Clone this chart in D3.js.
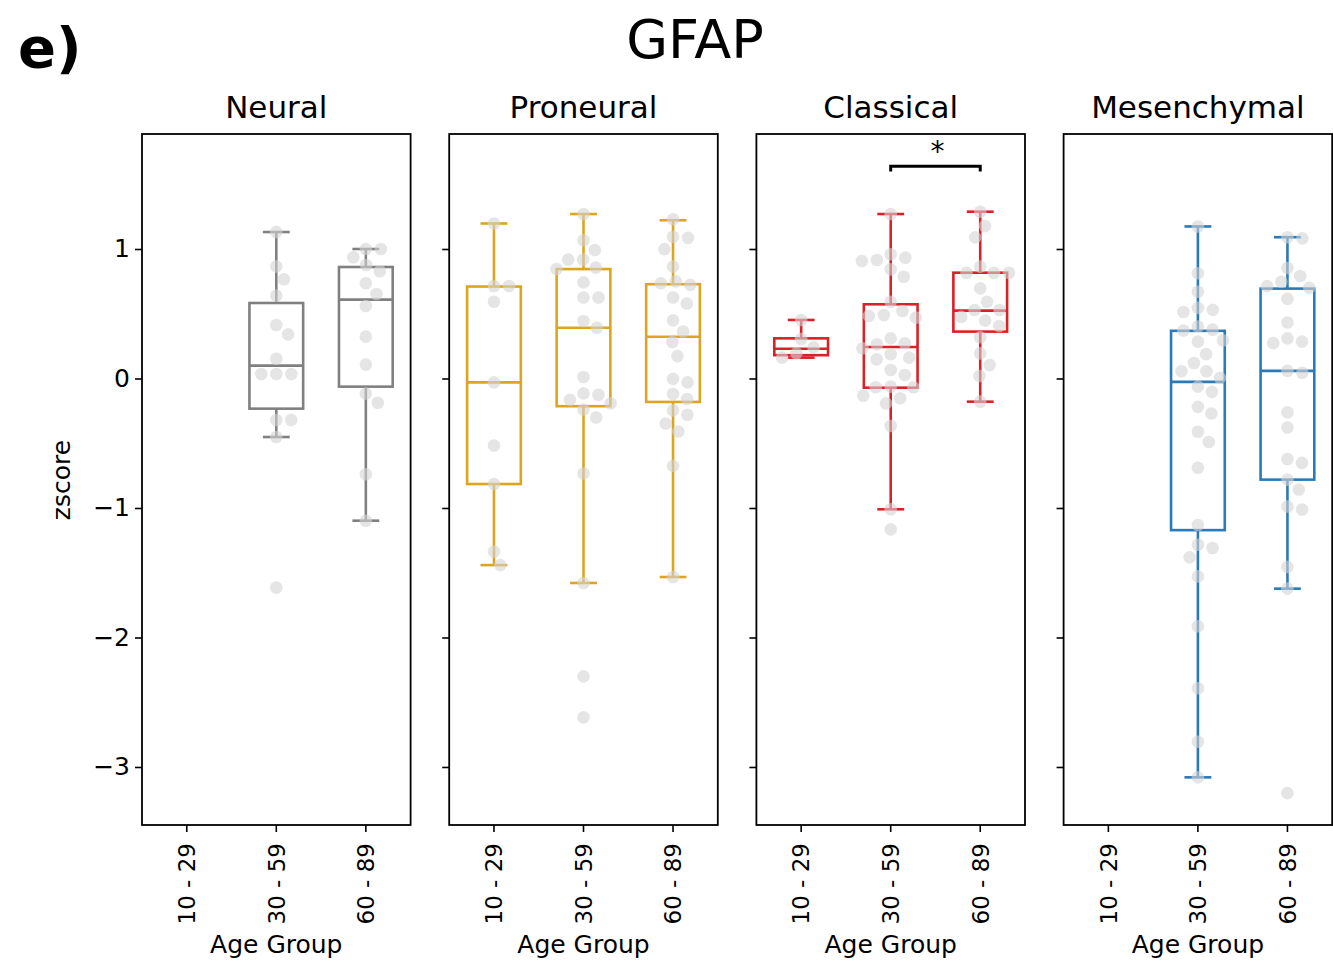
<!DOCTYPE html>
<html>
<head>
<meta charset="utf-8">
<script src="https://cdn.jsdelivr.net/npm/d3@7"></script>
<style>
  html, body { margin: 0; padding: 0; background: #fff; }
  svg { display: block; font-family: "DejaVu Sans", sans-serif; }
</style>
</head>
<body>
<svg id="chart" width="1333" height="962"></svg>
<script>
// ---------------- DATA ----------------
const subtypes = ["Neural", "Proneural", "Classical", "Mesenchymal"];
const ageGroups = ["10 - 29", "30 - 59", "60 - 89"];
const yTickValues = [-3, -2, -1, 0, 1];
const yTickLabels = ["\u22123", "\u22122", "\u22121", "0", "1"];

// z-scores of individual samples (points), per subtype, per age group
const neural_10_29 = [];
const neural_30_59 = [1.131, 0.866, 0.766, 0.640, 0.413, 0.341, 0.153, 0.035, 0.035, 0.035, -0.320, -0.320, -0.452, -1.615];
const neural_60_89 = [1.0, 1.0, 0.936, 0.876, 0.828, 0.735, 0.653, 0.560, 0.323, 0.107, -0.117, -0.187, -0.740, -1.098];

const proneural_10_29 = [1.197, 0.714, 0.714, 0.593, -0.030, -0.517, -0.815, -1.336, -1.441];
const proneural_30_59 = [1.270, 1.067, 0.991, 0.918, 0.918, 0.856, 0.845, 0.742, 0.625, 0.625, 0.444, 0.392, 0.011, -0.115, -0.125, -0.165, -0.192, -0.239, -0.301, -0.734, -1.579, -2.300, -2.617];
const proneural_60_89 = [1.229, 1.094, 1.086, 0.999, 0.864, 0.750, 0.735, 0.723, 0.625, 0.579, 0.449, 0.363, 0.282, 0.173, -0.003, -0.030, -0.120, -0.158, -0.246, -0.280, -0.347, -0.409, -0.675, -1.533];

const classical_10_29 = [0.452, 0.305, 0.240, 0.195, 0.161];
const classical_30_59 = [1.270, 0.959, 0.933, 0.915, 0.907, 0.843, 0.786, 0.593, 0.521, 0.490, 0.483, 0.470, 0.310, 0.272, 0.264, 0.233, 0.187, 0.161, 0.148, 0.066, 0.027, -0.063, -0.068, -0.068, -0.133, -0.153, -0.192, -0.367, -1.010, -1.165];
const classical_60_89 = [1.288, 1.178, 1.090, 0.864, 0.817, 0.817, 0.817, 0.696, 0.593, 0.529, 0.529, 0.477, 0.447, 0.405, 0.318, 0.194, 0.104, 0.019, -0.179];

const mesenchymal_10_29 = [];
const mesenchymal_30_59 = [1.174, 0.813, 0.670, 0.545, 0.530, 0.514, 0.401, 0.377, 0.371, 0.294, 0.285, 0.188, 0.120, 0.056, 0.056, 0.005, -0.063, -0.103, -0.219, -0.270, -0.411, -0.490, -0.689, -1.131, -1.284, -1.309, -1.381, -1.528, -1.913, -2.392, -2.805, -3.080];
const mesenchymal_60_89 = [1.091, 1.082, 0.853, 0.792, 0.747, 0.713, 0.700, 0.615, 0.432, 0.310, 0.285, 0.273, 0.059, 0.044, -0.261, -0.378, -0.622, -0.652, -0.781, -0.857, -0.988, -1.012, -1.455, -1.623, -3.202];

// box statistics: [lower whisker, Q1, median, Q3, upper whisker] (null = no box)
const neural_boxes = [null, [-0.452, -0.233, 0.099, 0.583, 1.131], [-1.098, -0.063, 0.609, 0.861, 1.000]];
const proneural_boxes = [[-1.441, -0.815, -0.030, 0.710, 1.197], [-1.579, -0.214, 0.392, 0.845, 1.270], [-1.533, -0.181, 0.322, 0.728, 1.222]];
const classical_boxes = [[0.161, 0.180, 0.230, 0.310, 0.452], [-1.010, -0.071, 0.243, 0.573, 1.270], [-0.179, 0.362, 0.524, 0.817, 1.288]];
const mesenchymal_boxes = [null, [-3.080, -1.171, -0.026, 0.368, 1.174], [-1.623, -0.781, 0.059, 0.694, 1.091]];

// significance annotations
const sigSubtype = ["Classical"];
const sigFrom = ["30 - 59"];
const sigTo = ["60 - 89"];
const sigLabel = ["*"];

// ---------------- STYLE / LAYOUT ----------------
const colors = { Neural: "#808080", Proneural: "#DBA520", Classical: "#DA2128", Mesenchymal: "#2A79B8" };
const pointsBySubtype = {
  Neural: [neural_10_29, neural_30_59, neural_60_89],
  Proneural: [proneural_10_29, proneural_30_59, proneural_60_89],
  Classical: [classical_10_29, classical_30_59, classical_60_89],
  Mesenchymal: [mesenchymal_10_29, mesenchymal_30_59, mesenchymal_60_89]
};
const boxesBySubtype = { Neural: neural_boxes, Proneural: proneural_boxes, Classical: classical_boxes, Mesenchymal: mesenchymal_boxes };

const FONT = "DejaVu Sans";
const plotTop = 134, plotBottom = 825;
const panelLeft0 = 142, panelW = 268.6, panelGap = 38.6;
const boxFrac = 0.6;
const dotR = 6.3, swarmD = 15;

const svg = d3.select("#chart");

const y = d3.scaleLinear().domain([-3.448, 1.888]).range([plotBottom, plotTop]);

// Figure label & title
svg.append("text").attr("x", 18).attr("y", 67)
  .attr("font-size", 56).attr("font-weight", "bold").attr("font-family", FONT).text("e)");
svg.append("text").attr("x", 695).attr("y", 58).attr("text-anchor", "middle")
  .attr("font-size", 54).attr("font-family", FONT).text("GFAP");

// y label
svg.append("text").attr("transform", "translate(70,480) rotate(-90)")
  .attr("text-anchor", "middle").attr("font-size", 25).attr("font-family", FONT).text("zscore");

function swarmOffsets(values) {
  const pts = values.map((v, i) => ({ i, py: y(v), x: 0 }));
  const order = pts.slice().sort((a, b) => a.py - b.py);
  const placed = [];
  for (const p of order) {
    const nb = placed.filter(q => Math.abs(q.py - p.py) < swarmD);
    const cands = [0];
    for (const q of nb) {
      const dx = Math.sqrt(swarmD * swarmD - (q.py - p.py) ** 2);
      cands.push(q.x + dx, q.x - dx);
    }
    cands.sort((a, b) => Math.abs(a) - Math.abs(b));
    let chosen = cands[cands.length - 1];
    for (const c of cands) {
      if (nb.every(q => (c - q.x) ** 2 + (p.py - q.py) ** 2 >= swarmD * swarmD - 0.01)) { chosen = c; break; }
    }
    p.x = chosen;
    placed.push(p);
  }
  return pts.map(p => p.x);
}

subtypes.forEach((st, si) => {
  const left = panelLeft0 + si * (panelW + panelGap);
  const x = d3.scaleBand().domain(ageGroups).range([left, left + panelW]).padding(0);
  const bw = x.bandwidth() * boxFrac;
  const col = colors[st];
  const g = svg.append("g");

  // panel title
  g.append("text").attr("x", left + panelW / 2).attr("y", 118).attr("text-anchor", "middle")
    .attr("font-size", 31).attr("font-family", FONT).text(st);

  // y axis ticks
  const yAxis = d3.axisLeft(y).tickValues(yTickValues).tickSize(7).tickSizeOuter(0)
    .tickFormat((d, i) => si === 0 ? yTickLabels[i] : "");
  const ya = g.append("g").attr("transform", `translate(${left},0)`).call(yAxis);
  ya.select(".domain").remove();
  ya.selectAll(".tick line").attr("stroke", "#000").attr("stroke-width", 1.6);
  ya.selectAll(".tick text").attr("font-size", 25).attr("font-family", FONT).attr("fill", "#000").attr("x", -12);

  // x axis ticks
  const xAxis = d3.axisBottom(x).tickSize(7).tickSizeOuter(0);
  const xa = g.append("g").attr("transform", `translate(0,${plotBottom})`).call(xAxis);
  xa.select(".domain").remove();
  xa.selectAll(".tick line").attr("stroke", "#000").attr("stroke-width", 1.6);
  xa.selectAll(".tick text")
    .attr("font-size", 23).attr("font-family", FONT).attr("fill", "#000")
    .attr("transform", "rotate(-90)")
    .attr("text-anchor", "end")
    .attr("x", -18).attr("y", 0).attr("dy", "0.36em");

  // x label
  g.append("text").attr("x", left + panelW / 2).attr("y", 953).attr("text-anchor", "middle")
    .attr("font-size", 25).attr("font-family", FONT).text("Age Group");

  // boxes
  const boxes = boxesBySubtype[st];
  ageGroups.forEach((ag, gi) => {
    const b = boxes[gi];
    if (!b) return;
    const cx = x(ag) + x.bandwidth() / 2;
    const bg = g.append("g").attr("stroke", col).attr("stroke-width", 2.6).attr("fill", "none");
    bg.append("line").attr("x1", cx).attr("x2", cx).attr("y1", y(b[0])).attr("y2", y(b[1]));
    bg.append("line").attr("x1", cx).attr("x2", cx).attr("y1", y(b[3])).attr("y2", y(b[4]));
    bg.append("line").attr("x1", cx - bw / 4).attr("x2", cx + bw / 4).attr("y1", y(b[0])).attr("y2", y(b[0]));
    bg.append("line").attr("x1", cx - bw / 4).attr("x2", cx + bw / 4).attr("y1", y(b[4])).attr("y2", y(b[4]));
    bg.append("rect").attr("x", cx - bw / 2).attr("width", bw)
      .attr("y", y(b[3])).attr("height", y(b[1]) - y(b[3])).attr("fill", "#fff");
    bg.append("line").attr("x1", cx - bw / 2).attr("x2", cx + bw / 2).attr("y1", y(b[2])).attr("y2", y(b[2]));
  });

  // points (swarm)
  const pts = pointsBySubtype[st];
  ageGroups.forEach((ag, gi) => {
    const vals = pts[gi];
    if (!vals.length) return;
    const cx = x(ag) + x.bandwidth() / 2;
    const offs = swarmOffsets(vals);
    g.append("g").selectAll("circle").data(vals).join("circle")
      .attr("cx", (d, i) => cx + offs[i]).attr("cy", d => y(d)).attr("r", dotR)
      .attr("fill", "#d3d3d3").attr("fill-opacity", 0.6);
  });

  // significance
  sigSubtype.forEach((s, k) => {
    if (s !== st) return;
    const i1 = ageGroups.indexOf(sigFrom[k]), i2 = ageGroups.indexOf(sigTo[k]);
    const x1 = x(sigFrom[k]) + x.bandwidth() / 2, x2 = x(sigTo[k]) + x.bandwidth() / 2;
    const topVal = Math.max(boxes[i1][4], boxes[i2][4], d3.max(pts[i1]), d3.max(pts[i2]));
    const yb = y(topVal + 0.35), yt = y(topVal + 0.31);
    g.append("path").attr("d", `M${x1},${yt}L${x1},${yb}L${x2},${yb}L${x2},${yt}`)
      .attr("fill", "none").attr("stroke", "#000").attr("stroke-width", 3);
    g.append("text").attr("x", (x1 + x2) / 2 + 2).attr("y", yb - 5).attr("text-anchor", "middle")
      .attr("font-size", 28).attr("font-family", FONT).text(sigLabel[k]);
  });

  // frame
  g.append("rect").attr("x", left).attr("y", plotTop).attr("width", panelW).attr("height", plotBottom - plotTop)
    .attr("fill", "none").attr("stroke", "#000").attr("stroke-width", 1.8);
});
</script>
</body>
</html>
